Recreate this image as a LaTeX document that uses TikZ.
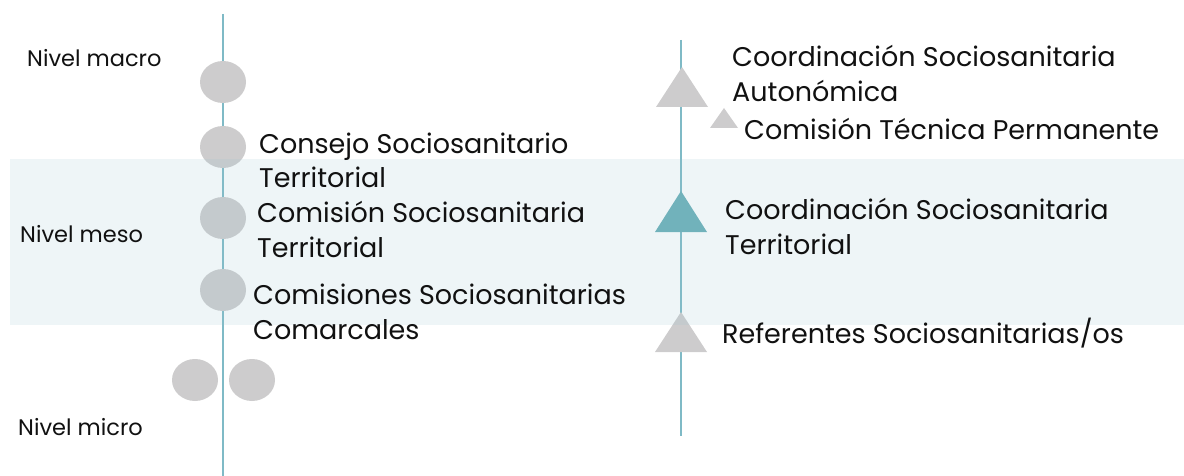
\documentclass[tikz,border=0pt]{standalone}
\usepackage{fontspec}
\setmainfont{Poppins}
\definecolor{axis}{HTML}{7FBAC6}
\definecolor{dot}{HTML}{CDCCCD}
\definecolor{tealtri}{HTML}{6AAFB8}
\definecolor{band}{RGB}{150,194,206}
\definecolor{ink}{HTML}{111111}
\begin{document}
\begin{tikzpicture}[x=1pt,y=-1pt,
  lbl/.style={anchor=base west, inner sep=0pt, align=left, text=ink, font=\fontsize{27}{35}\selectfont},
  lvl/.style={anchor=base west, inner sep=0pt, text=ink, font=\fontsize{22.5}{26}\selectfont},
  axisline/.style={draw=axis, line width=2pt},
  dotfill/.style={fill=dot},
  bandfill/.style={fill=band, fill opacity=0.16}]
\useasboundingbox (0,0) rectangle (1184,476);
% axes
\coordinate (la) at (223,14);
\coordinate (lb) at (223,476);
\coordinate (ra) at (681,40);
\coordinate (rb) at (681,436);
\draw[axisline] (la) -- (lb);
\draw[axisline] (ra) -- (rb);
% circles (left)
\fill[dotfill] (223,82) ellipse [x radius=23, y radius=21];
\fill[dotfill] (223,147) ellipse [x radius=23, y radius=21];
\fill[dotfill] (223,218) ellipse [x radius=23, y radius=21];
\fill[dotfill] (223,290) ellipse [x radius=23, y radius=21];
\fill[dotfill] (195,380) ellipse [x radius=23, y radius=21];
\fill[dotfill] (252,380) ellipse [x radius=23, y radius=21];
% triangles (right)
\fill[dotfill] (682,67) -- (708,107) -- (656,107) -- cycle;
\fill[dotfill] (724,108) -- (738,128) -- (710,128) -- cycle;
\fill[tealtri] (681,191) -- (707,232) -- (655,232) -- cycle;
\fill[dotfill] (681,312) -- (707,352) -- (655,352) -- cycle;
% band
\fill[bandfill] (10,159) rectangle (1184,325);
% level labels
\node[lvl] (macro) at (27,67) {Nivel macro};
\node[lvl] (meso) at (20,242) {Nivel meso};
\node[lvl] (micro) at (18,435) {Nivel micro};
% left labels (anchor at baseline of last line)
\node[lbl] (cst) at (259,188) {Consejo Sociosanitario\\Territorial};
\node[lbl] (comst) at (257,257) {Comisión Sociosanitaria\\Territorial};
\node[lbl] (comc) at (253,339) {Comisiones Sociosanitarias\\Comarcales};
% right labels
\node[lbl] (csa) at (732,102) {Coordinación Sociosanitaria\\Autonómica};
\node[lbl] (ctp) at (744,140) {Comisión Técnica Permanente};
\node[lbl] (cstr) at (725,254) {Coordinación Sociosanitaria\\Territorial};
\node[lbl] (ref) at (722,343) {Referentes Sociosanitarias/os};
\end{tikzpicture}
\end{document}
